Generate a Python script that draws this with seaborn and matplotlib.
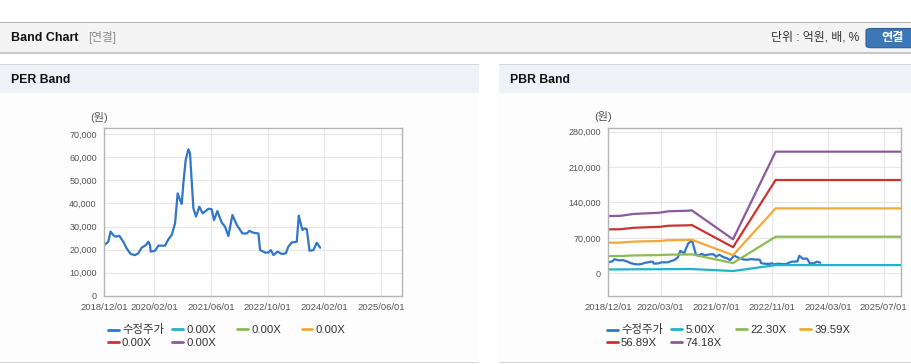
import matplotlib
matplotlib.use("Agg")
import matplotlib.pyplot as plt
import matplotlib.dates as mdates
from matplotlib.patches import Rectangle, FancyBboxPatch
from matplotlib.lines import Line2D
from matplotlib.legend import Legend
from matplotlib.ticker import FuncFormatter
import seaborn as sns
import pandas as pd

W, H = 912, 364

# adjusted close price (수정주가)
price_dates = ["2018-12-01", "2019-01-04", "2019-01-24", "2019-02-16", "2019-03-08", "2019-04-09",
               "2019-05-13", "2019-06-11", "2019-07-15", "2019-08-21", "2019-09-19", "2019-10-17",
               "2019-11-24", "2019-12-14", "2019-12-28", "2020-01-03", "2020-02-09", "2020-03-09",
               "2020-05-05", "2020-06-02", "2020-07-01", "2020-07-30", "2020-08-21", "2020-09-11",
               "2020-09-25", "2020-10-09", "2020-10-29", "2020-11-21", "2020-12-05", "2020-12-20",
               "2021-01-03", "2021-01-26", "2021-02-23", "2021-03-24", "2021-05-12", "2021-06-09",
               "2021-06-29", "2021-07-28", "2021-09-03", "2021-10-02", "2021-10-30", "2021-12-04",
               "2022-01-10", "2022-02-28", "2022-04-06", "2022-04-29", "2022-06-02", "2022-07-15",
               "2022-07-29", "2022-09-10", "2022-10-09", "2022-10-29", "2022-11-21", "2022-12-25",
               "2023-01-31", "2023-03-07", "2023-03-29", "2023-04-27", "2023-06-09", "2023-06-26",
               "2023-07-08", "2023-07-28", "2023-08-14", "2023-09-03", "2023-09-26", "2023-10-30",
               "2023-11-28", "2023-12-26"]
price_vals = [22000, 23400, 27800, 26300, 25600, 26000,
              23400, 20500, 18100, 17600, 18400, 20800,
              22000, 23400, 22000, 19100, 19500, 21700,
              21700, 24400, 26300, 31400, 44400, 41500,
              39800, 48700, 58900, 63500, 61800, 49500,
              37900, 34300, 38600, 35700, 37700, 37500,
              32800, 36700, 31700, 29900, 25900, 35000,
              30700, 27000, 27000, 28100, 27300, 27000,
              19800, 18700, 18700, 19800, 17600, 19100,
              18100, 18400, 21300, 23100, 23400, 34700,
              32100, 28500, 29200, 28800, 19500, 19800,
              23000, 20800]

# book value per share behind the PBR band lines
bps_dates = ["2018-12-01", "2019-03-13", "2019-07-07", "2020-02-25", "2020-05-08", "2020-10-30",
             "2020-11-28", "2021-11-24", "2022-12-01", "2025-11-30"]
bps_vals = [1527, 1530, 1581, 1616, 1653, 1668, 1680, 906, 3242, 3242]

pbr_labels = ["5.00X", "22.30X", "39.59X", "56.89X", "74.18X"]
pbr_mult = [5.00, 22.30, 39.59, 56.89, 74.18]
per_labels = ["0.00X", "0.00X", "0.00X", "0.00X", "0.00X"]

price_label = "수정주가"
price_color = "#3176c9"
band_colors = ["#1fb4c7", "#8cbb55", "#f4a836", "#cb3333", "#8c5a9c"]

per_ticks = ["2018-12-01", "2020-02-01", "2021-06-01", "2022-10-01", "2024-02-01", "2025-06-01"]
pbr_ticks = ["2018-12-01", "2020-03-01", "2021-07-01", "2022-11-01", "2024-03-01", "2025-07-01"]
per_yticks = [0, 10000, 20000, 30000, 40000, 50000, 60000, 70000]
pbr_yticks = [0, 70000, 140000, 210000, 280000]

sns.set_style("white")
plt.rcParams["font.family"] = ["Liberation Sans", "Noto Sans CJK KR", "DejaVu Sans"]


def fx(px):
    return px / W


def fy(py):
    return 1 - py / H


def box(fig, x0, y0, x1, y1, color):
    fig.add_artist(Rectangle((fx(x0), fy(y1)), fx(x1) - fx(x0), fy(y0) - fy(y1),
                             transform=fig.transFigure, facecolor=color, edgecolor="none", zorder=0))


fig = plt.figure(figsize=(W / 100, H / 100), dpi=100)
fig.patch.set_facecolor("white")

# top header bar
box(fig, 0, 21.8, W, 23, "#b7b7b7")
box(fig, 0, 23, W, 52.5, "#f4f4f4")
box(fig, 0, 52.5, W, 54, "#c9c9c9")
fig.text(fx(11), fy(38), "Band Chart", fontsize=9, fontweight="bold", color="#111", va="center")
fig.text(fx(88), fy(38), "[연결]", fontsize=8.4, color="#8a8a8a", va="center")
fig.text(fx(859.5), fy(38), "단위 : 억원, 배, %", fontsize=8.6, color="#333", va="center", ha="right")
fig.add_artist(FancyBboxPatch((fx(866), fy(47.7)), fx(60), fy(0) - fy(19.2), transform=fig.transFigure,
                              boxstyle="round,pad=0,rounding_size=0.006", facecolor="#3b76b6",
                              edgecolor="#2c5e96", lw=0.8, zorder=1))
fig.text(fx(892.5), fy(38.2), "연결", fontsize=8.8, fontweight="bold", color="white", ha="center", va="center")

# panels
for (x0, x1, title) in [(0, 478.7, "PER Band"), (499, W, "PBR Band")]:
    box(fig, x0, 63.6, x1, 64.8, "#d6d6d6")
    box(fig, x0, 64.8, x1, 92.7, "#eef2f7")
    box(fig, x0, 92.7, x1, 362, "#fdfdfd")
    box(fig, x0, 362, x1, 363.2, "#d6d6d6")
    fig.text(fx(x0 + 11.3), fy(80.3), title, fontsize=8.8, fontweight="bold", color="#111", va="center")

price_df = pd.DataFrame({"date": pd.to_datetime(price_dates), "value": price_vals})

bps = pd.DataFrame({"date": pd.to_datetime(bps_dates), "bps": bps_vals})
band_rows = []
for lab, m in zip(pbr_labels, pbr_mult):
    band_rows.append(pd.DataFrame({"date": bps["date"], "value": bps["bps"] * m, "band": lab}))
band_df = pd.concat(band_rows, ignore_index=True)

fmt = FuncFormatter(lambda v, p: f"{v:,.0f}")


def style_axes(ax, ticks, yticks, ylim):
    ax.set_facecolor("white")
    ax.set_xlim(pd.Timestamp("2018-12-01"), pd.Timestamp("2025-11-30"))
    ax.set_ylim(*ylim)
    ax.set_xticks(pd.to_datetime(ticks))
    ax.xaxis.set_major_formatter(mdates.DateFormatter("%Y/%m/%d"))
    ax.set_yticks(yticks)
    ax.yaxis.set_major_formatter(fmt)
    ax.grid(True, color="#e6e6e6", lw=0.8)
    ax.set_axisbelow(True)
    for s in ax.spines.values():
        s.set_color("#b5b5b5")
        s.set_linewidth(1)
        s.set_visible(True)
    ax.tick_params(axis="y", direction="out", length=3.5, width=0.8, color="#999",
                   pad=2, labelsize=6.5, labelcolor="#555")
    ax.tick_params(axis="x", direction="in", length=3.5, width=0.8, color="#bbb",
                   pad=5, labelsize=6.8, labelcolor="#555")
    ax.set_xlabel("")
    ax.set_ylabel("")


def grid_legend(ax, x_start, entries):
    # fixed grid legend: 4 columns, one small legend per entry so rows line up
    for i, (lab, col) in enumerate(entries):
        r, c = divmod(i, 4)
        leg = Legend(ax, [Line2D([], [], color=col, lw=2)], [lab], loc="center left",
                     bbox_to_anchor=(fx(x_start + c * 64.6), fy(330 + r * 13.3)),
                     bbox_transform=fig.transFigure, frameon=False, fontsize=8.2,
                     handlelength=0.95, handletextpad=0.3,
                     borderpad=0, borderaxespad=0, labelcolor="#333")
        ax.add_artist(leg)


# PER band
ax1 = fig.add_axes([fx(104.3), fy(295.7), fx(298), fy(0) - fy(167.4)])
sns.lineplot(data=price_df, x="date", y="value", ax=ax1, color=price_color, lw=1.6)
style_axes(ax1, per_ticks, per_yticks, (0, 72600))
fig.text(fx(99), fy(118), "(원)", fontsize=8, color="#555", ha="center", va="center")
grid_legend(ax1, 107.7, [(price_label, price_color)] + list(zip(per_labels, band_colors)))

# PBR band
ax2 = fig.add_axes([fx(608.3), fy(295.7), fx(292.7), fy(0) - fy(167.4)])
sns.lineplot(data=price_df, x="date", y="value", ax=ax2, color=price_color, lw=1.6)
sns.lineplot(data=band_df, x="date", y="value", hue="band", hue_order=pbr_labels,
             palette=band_colors, ax=ax2, lw=1.6, legend=False)
style_axes(ax2, pbr_ticks, pbr_yticks, (-44300, 286700))
fig.text(fx(603), fy(117), "(원)", fontsize=8, color="#555", ha="center", va="center")
grid_legend(ax2, 606.7, [(price_label, price_color)] + list(zip(pbr_labels, band_colors)))

fig.savefig("out.png", dpi=100)
